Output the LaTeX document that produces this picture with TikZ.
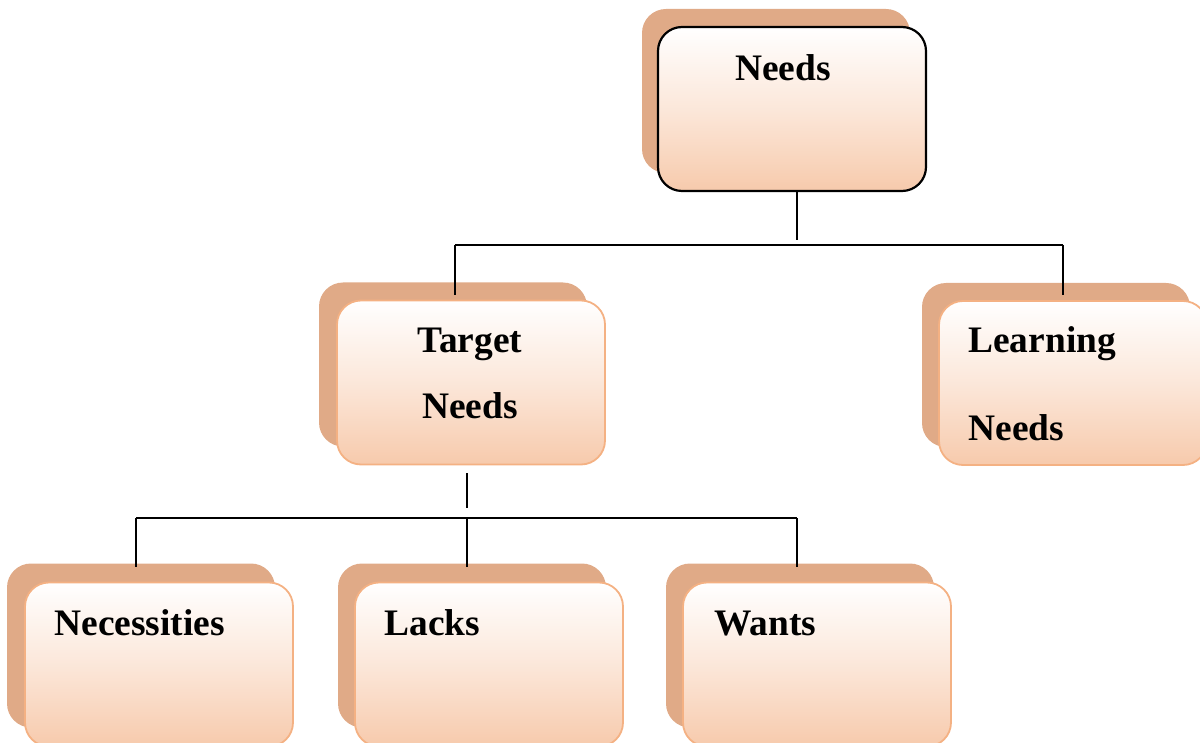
\documentclass[tikz,border=0pt]{standalone}
\usepackage{fontspec}
\setmainfont{Liberation Serif}
\definecolor{shadowc}{RGB}{224,170,135}
\definecolor{peach}{RGB}{247,202,172}
\definecolor{edgec}{RGB}{244,177,131}
\begin{document}
\begin{tikzpicture}[x=0.5pt,y=-0.5pt,
  shadowbox/.style={fill=shadowc, draw=none, rounded corners=12pt, minimum width=134pt, minimum height=82pt, inner sep=0pt},
  frontbox/.style={rounded corners=12pt, minimum width=134pt, minimum height=82pt, inner sep=0pt,
     top color=white, bottom color=peach, middle color=peach!45!white, draw=edgec, line width=0.9pt},
  topbox/.style={frontbox, draw=black, line width=1.1pt},
  txt/.style={font=\bfseries\fontsize{18.7}{22}\selectfont, inner sep=0pt},
  conn/.style={draw=black, line width=0.9pt}]
\useasboundingbox (0,0) rectangle (1200,743);
\clip (0,0) rectangle (1200,743);
% shadows
\node[shadowbox] (nS) at (776,91) {};
\node[shadowbox] (tS) at (453,364.5) {};
\node[shadowbox] (lS) at (1056,365) {};
\node[shadowbox] (cS) at (141,645.5) {};
\node[shadowbox] (kS) at (472,645.5) {};
\node[shadowbox] (wS) at (800,645.5) {};
% front boxes
\node[topbox] (nF) at (792,109) {};
\node[frontbox] (tF) at (471,382.5) {};
\node[frontbox] (lF) at (1073,383) {};
\node[frontbox] (cF) at (159,664.5) {};
\node[frontbox] (kF) at (489,664.5) {};
\node[frontbox] (wF) at (817,664.5) {};
% texts
\node[txt, anchor=base] (nT) at (783,81) {Needs};
\node[txt, anchor=base] (tT1) at (470,353) {Target};
\node[txt, anchor=base] (tT2) at (470,418) {Needs};
\node[txt, anchor=base west] (lT1) at (968,353) {Learning};
\node[txt, anchor=base west] (lT2) at (968,440) {Needs};
\node[txt, anchor=base west] (cT) at (54,635) {Necessities};
\node[txt, anchor=base west] (kT) at (384,635) {Lacks};
\node[txt, anchor=base west] (wT) at (714,635) {Wants};
% connectors
\coordinate (a1) at (455,245);
\coordinate (a2) at (1063,245);
\coordinate (b0) at (467,473);
\coordinate (b1) at (136,518);
\coordinate (b2) at (467,518);
\coordinate (b3) at (797,518);
\draw[conn] (nF.south -| 797,0) -- (797,240);
\draw[conn] (a1) -- (a2);
\draw[conn] (a1) -- ++(0,50);
\draw[conn] (a2) -- ++(0,50);
\draw[conn] (b0) -- (467,508);
\draw[conn] (b1) -- (b3);
\draw[conn] (b1) -- ++(0,49);
\draw[conn] (b2) -- ++(0,49);
\draw[conn] (b3) -- ++(0,49);
\end{tikzpicture}
\end{document}
